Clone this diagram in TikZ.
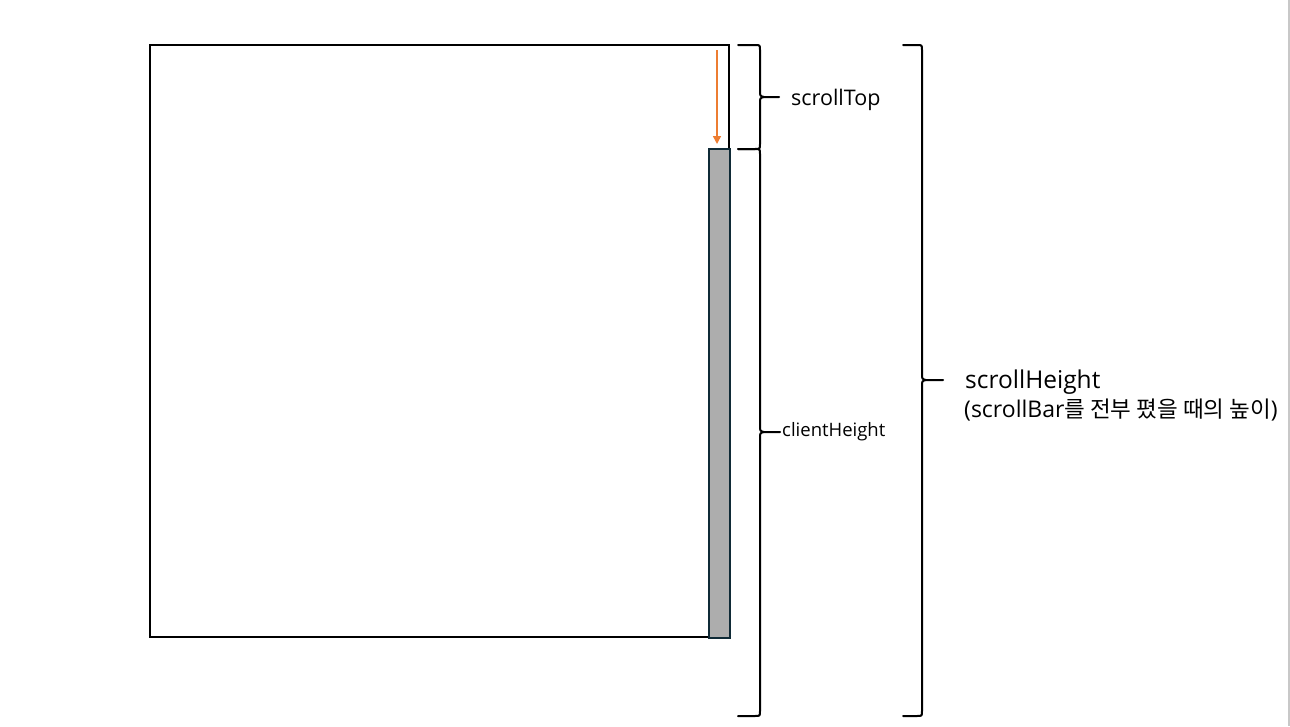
\documentclass[tikz,border=0pt]{standalone}
\usepackage{fontspec}
\setmainfont{Open Sans}
\newfontfamily\kofont{Noto Sans CJK KR}
\usetikzlibrary{arrows.meta}
\definecolor{barfill}{HTML}{ADADAD}
\definecolor{bardraw}{HTML}{0F2A36}
\definecolor{arrowc}{HTML}{ED7D31}
\tikzset{
  px/.style={x=1pt,y=-1pt},
  mainbox/.style={draw=black,line width=1.8pt},
  barbox/.style={draw=bardraw,fill=barfill,line width=1.6pt},
  bracestyle/.style={draw=black,line width=2pt,line cap=round},
  txt/.style={anchor=base west,inner sep=0pt},
}
% end x, top y, bottom y, tip y, vertical x, tip x
\newcommand\mkbrace[6]{%
  \draw[bracestyle] (#1,#2) -- ({#5-5},#2) .. controls (#5,#2) .. (#5,{#2+5})
    -- (#5,{#4-6}) .. controls (#5,{#4-1}) .. ({#5+4},#4) -- (#6,#4)
    (#1,#3) -- ({#5-5},#3) .. controls (#5,#3) .. (#5,{#3-5})
    -- (#5,{#4+6}) .. controls (#5,{#4+1}) .. ({#5+4},#4);
}
\begin{document}
\begin{tikzpicture}[px]
\useasboundingbox (0,0) rectangle (1290,726);
\fill[white] (0,0) rectangle (1290,726);
\draw[draw={rgb,255:red,200;green,200;blue,200},line width=1.5pt] (1289,0) -- (1289,726);
% main box
\draw[mainbox] (150,45) rectangle (729,637);
\node[barbox,minimum width=21pt,minimum height=489pt,inner sep=0pt,anchor=north west] (bar) at (708,148) {};
\coordinate (ast) at (717,50);
\coordinate (aen) at (717,144);
\draw[arrowc,line width=1.5pt,-{Triangle[length=8pt,width=8pt]}] (ast) -- (aen);
% braces
\mkbrace{738}{45}{149}{97}{760}{779}
\mkbrace{738}{149}{716}{432}{760}{780}
\mkbrace{903}{45}{716}{380}{922}{943}
\node[txt,font=\fontsize{21.5}{25}\selectfont] (st) at (791,105) {scrollTop};
\node[txt,font=\fontsize{18.5}{22}\selectfont] (ch) at (782,436) {clientHeight};
\node[txt,font=\fontsize{24.5}{29}\selectfont] (sh) at (965,388) {scrollHeight};
\node[txt,font=\fontsize{23}{27}\selectfont] (shk) at (964,417) {(scrollBar{\kofont\fontsize{22.5}{27}\selectfont 를 전부 폈을 때의 높이})};
\end{tikzpicture}
\end{document}
